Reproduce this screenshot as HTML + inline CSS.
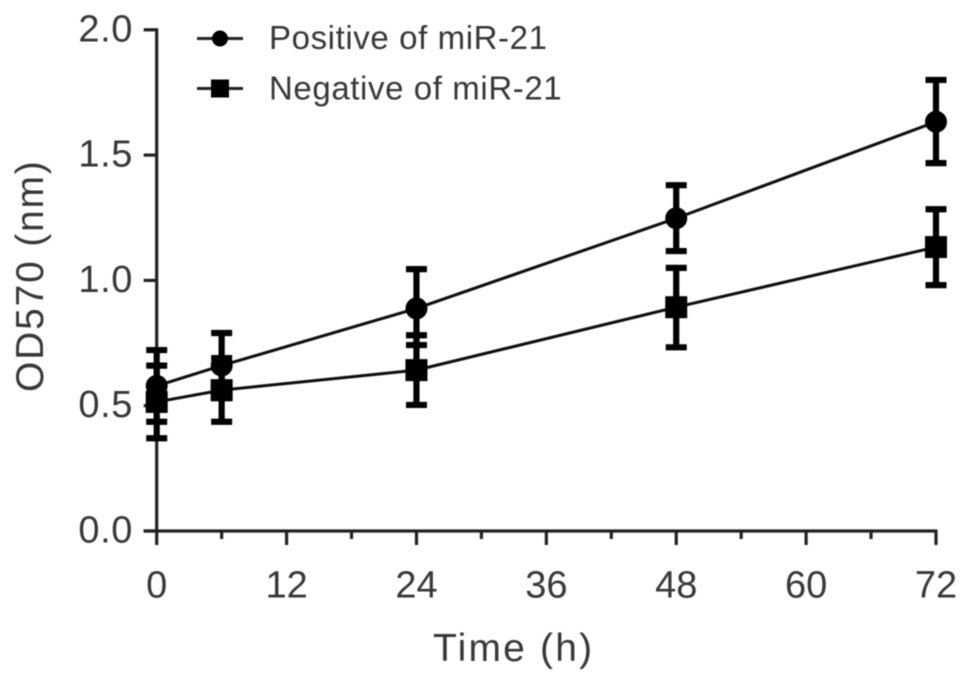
<!DOCTYPE html>
<html lang="en">
<head>
<meta charset="utf-8">
<title>OD570 over time</title>
<style>
html,body{margin:0;padding:0;background:#fff;}
body{width:969px;height:683px;overflow:hidden;}
svg{display:block;}
text{font-family:"Liberation Sans",sans-serif;fill:#383838;}
</style>
</head>
<body>
<svg id="chart" width="969" height="683" viewBox="0 0 969 683" xmlns="http://www.w3.org/2000/svg">
<defs><filter id="soft" x="-5%" y="-5%" width="110%" height="110%"><feGaussianBlur stdDeviation="0.6"/></filter></defs>
<rect width="969" height="683" fill="#fff"/>
<g id="root" filter="url(#soft)"></g>
</svg>
<script>
const timePoints = [0, 6, 24, 48, 72];
const positiveValues = [0.579, 0.66, 0.888, 1.248, 1.633];
const positiveUpper = [0.722, 0.79, 1.045, 1.38, 1.80];
const positiveLower = [0.436, 0.53, 0.742, 1.117, 1.468];
const negativeValues = [0.515, 0.562, 0.642, 0.893, 1.133];
const negativeUpper = [0.66, 0.69, 0.781, 1.05, 1.284];
const negativeLower = [0.37, 0.436, 0.503, 0.733, 0.981];
const xMajorTicks = [0, 12, 24, 36, 48, 60, 72];
const xMinorTicks = [6, 18, 30, 42, 54, 66];
const yTicks = [0, 0.5, 1, 1.5, 2];
const yTickLabels = ['0.0', '0.5', '1.0', '1.5', '2.0'];

const X0 = 156.7, X1 = 936, Y0 = 531, Y1 = 29.8;
function xScale(v) { return X0 + (v / 72) * (X1 - X0); }
function yScale(v) { return Y0 - (v / 2) * (Y0 - Y1); }

const NS = 'http://www.w3.org/2000/svg';
const root = document.getElementById('root');
function make(tag, attrs, parent) {
  const el = document.createElementNS(NS, tag);
  for (const k in attrs) el.setAttribute(k, attrs[k]);
  (parent || root).appendChild(el);
  return el;
}
function seg(x1, y1, x2, y2, w, color, parent) {
  return make('line', { x1: x1, y1: y1, x2: x2, y2: y2, stroke: color || '#222', 'stroke-width': w }, parent);
}

/* axes */
const xAxis = make('g', {});


const yAxis = make('g', {});



const yLine = seg(X0, Y1 - 1.5, X0, Y0 + 1.5, 3.2, '#222', yAxis);


const xLine = seg(X0 - 13, Y0, X1 + 1.5, Y0, 3.2, '#222', xAxis);



yTicks.forEach(function (t, i) {
  const tick = seg(X0 - 13, yScale(t), X0, yScale(t), 3.2, '#222', yAxis);
  
  
  const label = make('text', { x: 133, y: yScale(t) + 11.5, 'text-anchor': 'end', 'font-size': 38, 'letter-spacing': '0.6' }, yAxis);
  label.textContent = yTickLabels[i];
  
  
});
xMajorTicks.forEach(function (t) {
  const tick = seg(xScale(t), Y0, xScale(t), 545, 3.2, '#222', xAxis);
  
  
  const label = make('text', { x: xScale(t), y: 597.5, 'text-anchor': 'middle', 'font-size': 38 }, xAxis);
  label.textContent = String(t);
  
  
});
xMinorTicks.forEach(function (t) {
  const tick = seg(xScale(t), Y0, xScale(t), 539, 3.2, '#222', xAxis);
  
  
});

const xTitle = make('text', { x: 433, y: 661, 'font-size': 39, 'letter-spacing': '2.2' });
xTitle.textContent = 'Time (h)';



const yTitle = make('text', { x: 0, y: 0, 'font-size': 39, 'letter-spacing': '1.8', transform: 'translate(43 392) rotate(-90)' });
yTitle.textContent = 'OD570 (nm)';



/* series */
function marker(kind, cx, cy, size, parent) {
  if (kind === 'circle') {
    return make('circle', { cx: cx, cy: cy, r: size, fill: '#000' }, parent);
  }
  return make('rect', { x: cx - size, y: cy - size, width: size * 2, height: size * 2, fill: '#000' }, parent);
}
function drawSeries(name, kind, values, upper, lower) {
  const g = make('g', {});
  
  
  const pts = timePoints.map(function (t, i) { return xScale(t) + ',' + yScale(values[i]); }).join(' ');
  const line = make('polyline', { points: pts, fill: 'none', stroke: '#111', 'stroke-width': 3 }, g);
  
  
  timePoints.forEach(function (t, i) {
    const x = xScale(t);
    const bar = seg(x, yScale(upper[i]), x, yScale(lower[i]), 6.2, '#000', g);
    
    
    const capTop = seg(x - 10.5, yScale(upper[i]), x + 10.5, yScale(upper[i]), 6.2, '#000', g);
    
    
    const capBottom = seg(x - 10.5, yScale(lower[i]), x + 10.5, yScale(lower[i]), 6.2, '#000', g);
    
    
    const pt = marker(kind, x, yScale(values[i]), 11, g);
    
    
  });
}
drawSeries('series-positive', 'circle', positiveValues, positiveUpper, positiveLower);
drawSeries('series-negative', 'square', negativeValues, negativeUpper, negativeLower);

/* legend */
function legendEntry(label, kind, ly, by) {
  const g = make('g', {});
  
  
  const ln = seg(197, ly, 243, ly, 3, '#222', g);
  
  
  const mk = marker(kind, 220, ly, kind === 'circle' ? 8 : 9, g);
  
  
  const tx = make('text', { x: 269, y: by, 'font-size': 33, 'letter-spacing': '0.6' }, g);
  tx.textContent = label;
  
  
}
legendEntry('Positive of miR-21', 'circle', 38.5, 49);
legendEntry('Negative of miR-21', 'square', 88.5, 99.5);
</script>
</body>
</html>
